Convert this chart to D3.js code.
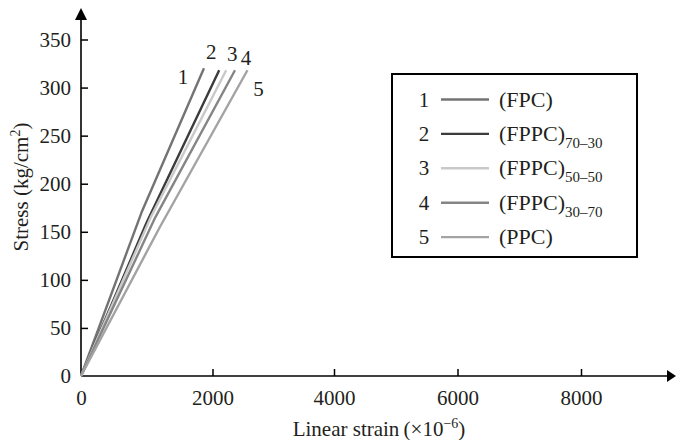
<!DOCTYPE html>
<html>
<head>
<meta charset="utf-8">
<script src="https://cdn.jsdelivr.net/npm/d3@7"></script>
<style>
  body { margin: 0; background: #fff; }
  svg { display: block; }
  text { font-family: "Liberation Serif", "Times New Roman", serif; fill: #231f20; }
</style>
</head>
<body>
<svg id="chart" width="676" height="440"></svg>
<script>
// Stress–strain curves of the five concrete mixes
const seriesKeys = ["1", "2", "3", "4", "5"];
const legendMain = ["(FPC)", "(FPPC)", "(FPPC)", "(FPPC)", "(PPC)"];
const legendSub = ["", "70–30", "50–50", "30–70", ""];

const strainFPC = [0, 920, 1870];
const stressFPC = [0, 170, 320];
const strainFPPC7030 = [0, 1000, 2110];
const stressFPPC7030 = [0, 160, 318];
const strainFPPC5050 = [0, 1060, 2225];
const stressFPPC5050 = [0, 165, 318];
const strainFPPC3070 = [0, 1130, 2370];
const stressFPPC3070 = [0, 165, 318];
const strainPPC = [0, 1200, 2575];
const stressPPC = [0, 155, 318];

const xTicks = [0, 2000, 4000, 6000, 8000];
const yTicks = [0, 50, 100, 150, 200, 250, 300, 350];

const strains = [strainFPC, strainFPPC7030, strainFPPC5050, strainFPPC3070, strainPPC];
const stresses = [stressFPC, stressFPPC7030, stressFPPC5050, stressFPPC3070, stressPPC];
const colors = ["#737373", "#3c3c3c", "#c9c9c9", "#858585", "#a3a3a3"];

const svg = d3.select("#chart");
const FS = "21px";

// piecewise scale follows the printed tick spacing of the strain axis
const x = d3.scaleLinear().domain(xTicks).range([81, 212.5, 334, 457.5, 581]);
const y = d3.scaleLinear().domain([0, 350]).range([376, 39.5]);

const series = seriesKeys.map((k, i) => ({
  key: k,
  color: colors[i],
  pts: strains[i].map((s, j) => [s, stresses[i][j]])
}));

// axes with inward ticks
const xAxis = svg.append("g").attr("transform", `translate(0,${y(0)})`)
  .call(d3.axisBottom(x).tickValues(xTicks).tickSizeInner(-7).tickSizeOuter(0).tickPadding(14).tickFormat(d3.format("d")));
const yAxis = svg.append("g").attr("transform", `translate(${x(0)},0)`)
  .call(d3.axisLeft(y).tickValues(yTicks).tickSizeInner(-7).tickSizeOuter(0).tickPadding(10).tickFormat(d3.format("d")));
[xAxis, yAxis].forEach(g => {
  g.select(".domain").remove();
  g.selectAll(".tick line").attr("stroke", "#000").attr("stroke-width", 1.5);
  g.selectAll(".tick text").style("font-size", FS).attr("fill", "#231f20");
});
xAxis.selectAll(".tick").filter(d => d === 0).select("line").remove();
yAxis.selectAll(".tick").filter(d => d === 0).select("line").remove();

// axis lines with arrowheads
svg.append("line").attr("x1", x(0)).attr("x2", 668).attr("y1", y(0)).attr("y2", y(0))
  .attr("stroke", "#000").attr("stroke-width", 1.6);
svg.append("path").attr("d", `M676,${y(0)} L667,${y(0) - 6} L667,${y(0) + 6} Z`).attr("fill", "#000");
svg.append("line").attr("x1", x(0)).attr("x2", x(0)).attr("y1", y(0)).attr("y2", 19)
  .attr("stroke", "#000").attr("stroke-width", 1.6);
svg.append("path").attr("d", `M${x(0)},8 L${x(0) - 6},20 L${x(0) + 6},20 Z`).attr("fill", "#000");

// axis titles
const xt = svg.append("text").attr("x", 379).attr("y", 436).attr("text-anchor", "middle").style("font-size", FS);
xt.append("tspan").text("Linear strain\u2009(×10");
xt.append("tspan").attr("dy", -8).style("font-size", "14px").text("−6");
xt.append("tspan").attr("dy", 8).text(")");

const yt = svg.append("text").attr("transform", "translate(28,187) rotate(-90)").attr("text-anchor", "middle").style("font-size", FS);
yt.append("tspan").text("Stress (kg/cm");
yt.append("tspan").attr("dy", -8).style("font-size", "14px").text("2");
yt.append("tspan").attr("dy", 8).text(")");

// curves
const line = d3.line().x(d => x(d[0])).y(d => y(d[1]));
svg.append("g").selectAll("path").data(series).join("path")
  .attr("d", d => line(d.pts))
  .attr("fill", "none").attr("stroke", d => d.color).attr("stroke-width", 2.4)
  .attr("stroke-linejoin", "round");

// curve numbers near the end of each curve
const endOffsets = [[-21, 16], [-8, -11], [6, -9], [11, -5], [11, 26]];
svg.append("g").selectAll("text").data(series).join("text")
  .attr("x", (d, i) => x(d.pts[d.pts.length - 1][0]) + endOffsets[i][0])
  .attr("y", (d, i) => y(d.pts[d.pts.length - 1][1]) + endOffsets[i][1])
  .attr("text-anchor", "middle").style("font-size", FS)
  .text(d => d.key);

// legend
const lg = svg.append("g");
lg.append("rect").attr("x", 392).attr("y", 74).attr("width", 245).attr("height", 183)
  .attr("fill", "#fff").attr("stroke", "#000").attr("stroke-width", 2);
const rows = lg.selectAll("g.row").data(series).join("g").attr("class", "row")
  .attr("transform", (d, i) => `translate(0,${99.5 + i * 34.4})`);
rows.append("text").attr("x", 424).attr("y", 7).attr("text-anchor", "middle").style("font-size", FS).text(d => d.key);
rows.append("line").attr("x1", 441).attr("x2", 489).attr("y1", 0).attr("y2", 0)
  .attr("stroke", d => d.color).attr("stroke-width", 2.4);
const lt = rows.append("text").attr("x", 499).attr("y", 7).style("font-size", "22px");
lt.append("tspan").text((d, i) => legendMain[i]);
lt.append("tspan").attr("dy", 7).style("font-size", "15px").text((d, i) => legendSub[i]);
</script>
</body>
</html>
